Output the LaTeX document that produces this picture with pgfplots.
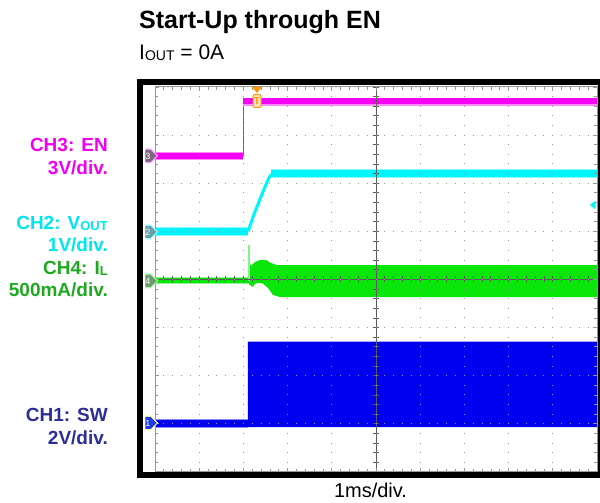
\documentclass[border=0pt]{standalone}
\usepackage{pgfplots}
\pgfplotsset{compat=1.18}
\usepackage{fontspec}
\setmainfont{Liberation Sans}
\usetikzlibrary{shapes.symbols}
\definecolor{chm}{RGB}{245,0,245}
\definecolor{chmt}{RGB}{240,0,240}
\definecolor{chc}{RGB}{0,245,250}
\definecolor{chct}{RGB}{0,230,240}
\definecolor{chg}{RGB}{10,230,10}
\definecolor{chgt}{RGB}{30,170,30}
\definecolor{chb}{RGB}{0,0,240}
\definecolor{chbt}{RGB}{45,45,150}
\definecolor{trig}{RGB}{255,150,0}
\definecolor{grat}{RGB}{150,150,150}
\definecolor{cross}{RGB}{90,90,90}
\begin{document}
\begin{tikzpicture}
\useasboundingbox (0pt,0pt) rectangle (600pt,503pt);
\begin{axis}[
  at={(155pt,31pt)}, anchor=south west,
  scale only axis, width=442pt, height=385pt,
  xmin=0, xmax=10, ymin=0, ymax=8,
  xtick={0,...,10}, ytick={0,...,8},
  xticklabels={}, yticklabels={},
  minor x tick num=4, minor y tick num=4,
  tick align=inside, major tick length=4pt, minor tick length=3pt,
  tick style={grat, line width=0.8pt},
  axis line style={grat, line width=1pt},
  grid=major,
  major x grid style={dash pattern=on 1pt off 8.625pt, dash phase=0.5pt, grat, line width=1pt},
  major y grid style={dash pattern=on 1pt off 7.84pt, dash phase=0.5pt, grat, line width=1pt},
  axis on top, clip=false,
]
% CH1 SW (blue)
\addplot[draw=none, fill=chb] coordinates {(2.10,0.935) (2.10,2.71) (10,2.71) (10,0.935) (2.10,0.935)};
\addplot[chb!45, line width=8.5pt] coordinates {(0,1.01) (2.10,1.01)};
\addplot[chb, line width=6.5pt] coordinates {(0,1.01) (2.10,1.01)};
% CH4 IL (green)
\addplot[chg!45, line width=7pt] coordinates {(0,3.97) (2.127,3.97)};
\addplot[chg, line width=5pt] coordinates {(0,3.97) (2.127,3.97)};
\addplot[draw=none, fill=chg] coordinates {
 (2.127,3.969) (2.127,4.40) (2.172,4.281) (2.262,4.364) (2.376,4.405) (2.511,4.405)
 (2.624,4.343) (2.760,4.301) (10,4.301) (10,3.636) (2.828,3.636) (2.670,3.678)
 (2.557,3.823) (2.421,3.927) (2.285,3.927) (2.195,3.844) (2.127,3.906) (2.127,3.969)};
\addplot[chg!50, line width=1.5pt] coordinates {(2.127,3.97) (2.127,4.72)};
% CH2 VOUT (cyan)
\addplot[chc!45, line width=8.5pt] coordinates {(0,5.0) (2.11,5.0)};
\addplot[chc, line width=6.5pt] coordinates {(0,5.0) (2.11,5.0)};
\addplot[chc, line width=3pt] coordinates {(2.11,5.0) (2.15,5.12) (2.25,5.38) (2.38,5.68) (2.50,5.95) (2.57,6.10) (2.62,6.17) (2.70,6.20)};
\addplot[chc!45, line width=8.5pt] coordinates {(2.62,6.20) (10,6.20)};
\addplot[chc, line width=6.5pt] coordinates {(2.62,6.20) (10,6.20)};
% CH3 EN (magenta)
\addplot[chm!45, line width=8pt] coordinates {(0,6.57) (2.0,6.57)};
\addplot[chm, line width=6pt] coordinates {(0,6.57) (2.0,6.57)};
\addplot[chm, line width=1pt] coordinates {(2.0,6.57) (2.0,7.70)};
\addplot[chm!45, line width=8.5pt] coordinates {(2.0,7.69) (10,7.69)};
\addplot[chm, line width=6pt] coordinates {(2.0,7.70) (10,7.70)};
% centre cross
\draw[cross, line width=0.9pt] (axis cs:0,4) -- (axis cs:10,4);
\draw[cross, line width=0.9pt] (axis cs:5,0) -- (axis cs:5,8);
\draw[cross, line width=6pt, dash pattern=on 0.9pt off 7.94pt, dash phase=0.45pt] (axis cs:0,4) -- (axis cs:10,4);
\draw[cross, line width=6pt, dash pattern=on 0.9pt off 8.725pt, dash phase=0.45pt] (axis cs:5,0) -- (axis cs:5,8);
\end{axis}
% scope frame
\draw[line width=6pt] (140pt,421pt) rectangle (601pt,27.5pt);
% channel markers
\node[signal, signal to=east, fill=chm!35, minimum width=13pt, minimum height=15pt, inner sep=0pt] at (148pt,347pt) {};
\node[signal, signal to=east, fill={rgb,255:red,125;green,105;blue,125}, minimum width=10pt, minimum height=12pt, inner sep=0pt, text=white, font=\fontsize{9}{9}\selectfont] at (148pt,347pt) {3};
\node[signal, signal to=east, fill=chc!35, minimum width=13pt, minimum height=15pt, inner sep=0pt] at (148pt,271pt) {};
\node[signal, signal to=east, fill={rgb,255:red,100;green,160;blue,170}, minimum width=10pt, minimum height=12pt, inner sep=0pt, text=white, font=\fontsize{9}{9}\selectfont] at (148pt,271pt) {2};
\node[signal, signal to=east, fill=chg!35, minimum width=13pt, minimum height=15pt, inner sep=0pt] at (148pt,222pt) {};
\node[signal, signal to=east, fill={rgb,255:red,110;green,155;blue,110}, minimum width=10pt, minimum height=12pt, inner sep=0pt, text=white, font=\fontsize{9}{9}\selectfont] at (148pt,222pt) {4};
\node[signal, signal to=east, fill=yellow!40, minimum width=13pt, minimum height=15pt, inner sep=0pt] at (148pt,80pt) {};
\node[signal, signal to=east, fill={rgb,255:red,30;green,60;blue,230}, minimum width=10pt, minimum height=12pt, inner sep=0pt, text=white, font=\fontsize{9}{9}\selectfont] at (148pt,80pt) {1};
% trigger markers
\fill[trig] (252pt,416pt) -- (262pt,416pt) -- (257pt,410pt) -- cycle;
\node[draw=trig, fill=trig!25, rounded corners=2pt, line width=1pt, minimum width=8pt, minimum height=13pt, inner sep=0pt, text=trig, font=\bfseries\fontsize{10}{10}\selectfont] at (257pt,402pt) {T};
\fill[chc] (590pt,298pt) -- (595pt,302pt) -- (595pt,294pt) -- cycle;
% texts
\node[anchor=base west, inner sep=0pt, font=\fontsize{25}{30}\selectfont\bfseries] at (139pt,474.5pt) {Start-Up through EN};
\node[anchor=base west, inner sep=0pt, font=\fontsize{21}{25}\selectfont] at (139pt,443.5pt) {I\raisebox{-1.5pt}{\fontsize{14}{14}\selectfont OUT} = 0A};
\begin{scope}[every node/.style={anchor=base east, inner sep=0pt, font=\fontsize{19}{22}\selectfont\bfseries}]
\node[text=chmt] at (108pt,351pt) {CH3: EN};
\node[text=chmt] at (108pt,328pt) {3V/div.};
\node[text=chct] at (108pt,273pt) {CH2: V\raisebox{-0.5pt}{\fontsize{13}{13}\selectfont OUT}};
\node[text=chct] at (108pt,251pt) {1V/div.};
\node[text=chgt] at (108pt,228pt) {CH4: I\raisebox{-0.5pt}{\fontsize{13}{13}\selectfont L}};
\node[text=chgt] at (108pt,206pt) {500mA/div.};
\node[text=chbt] at (108pt,81pt) {CH1: SW};
\node[text=chbt] at (108pt,58pt) {2V/div.};
\end{scope}
\node[anchor=base, inner sep=0pt, font=\fontsize{20}{24}\selectfont] at (370.5pt,5pt) {1ms/div.};
\end{tikzpicture}
\end{document}
